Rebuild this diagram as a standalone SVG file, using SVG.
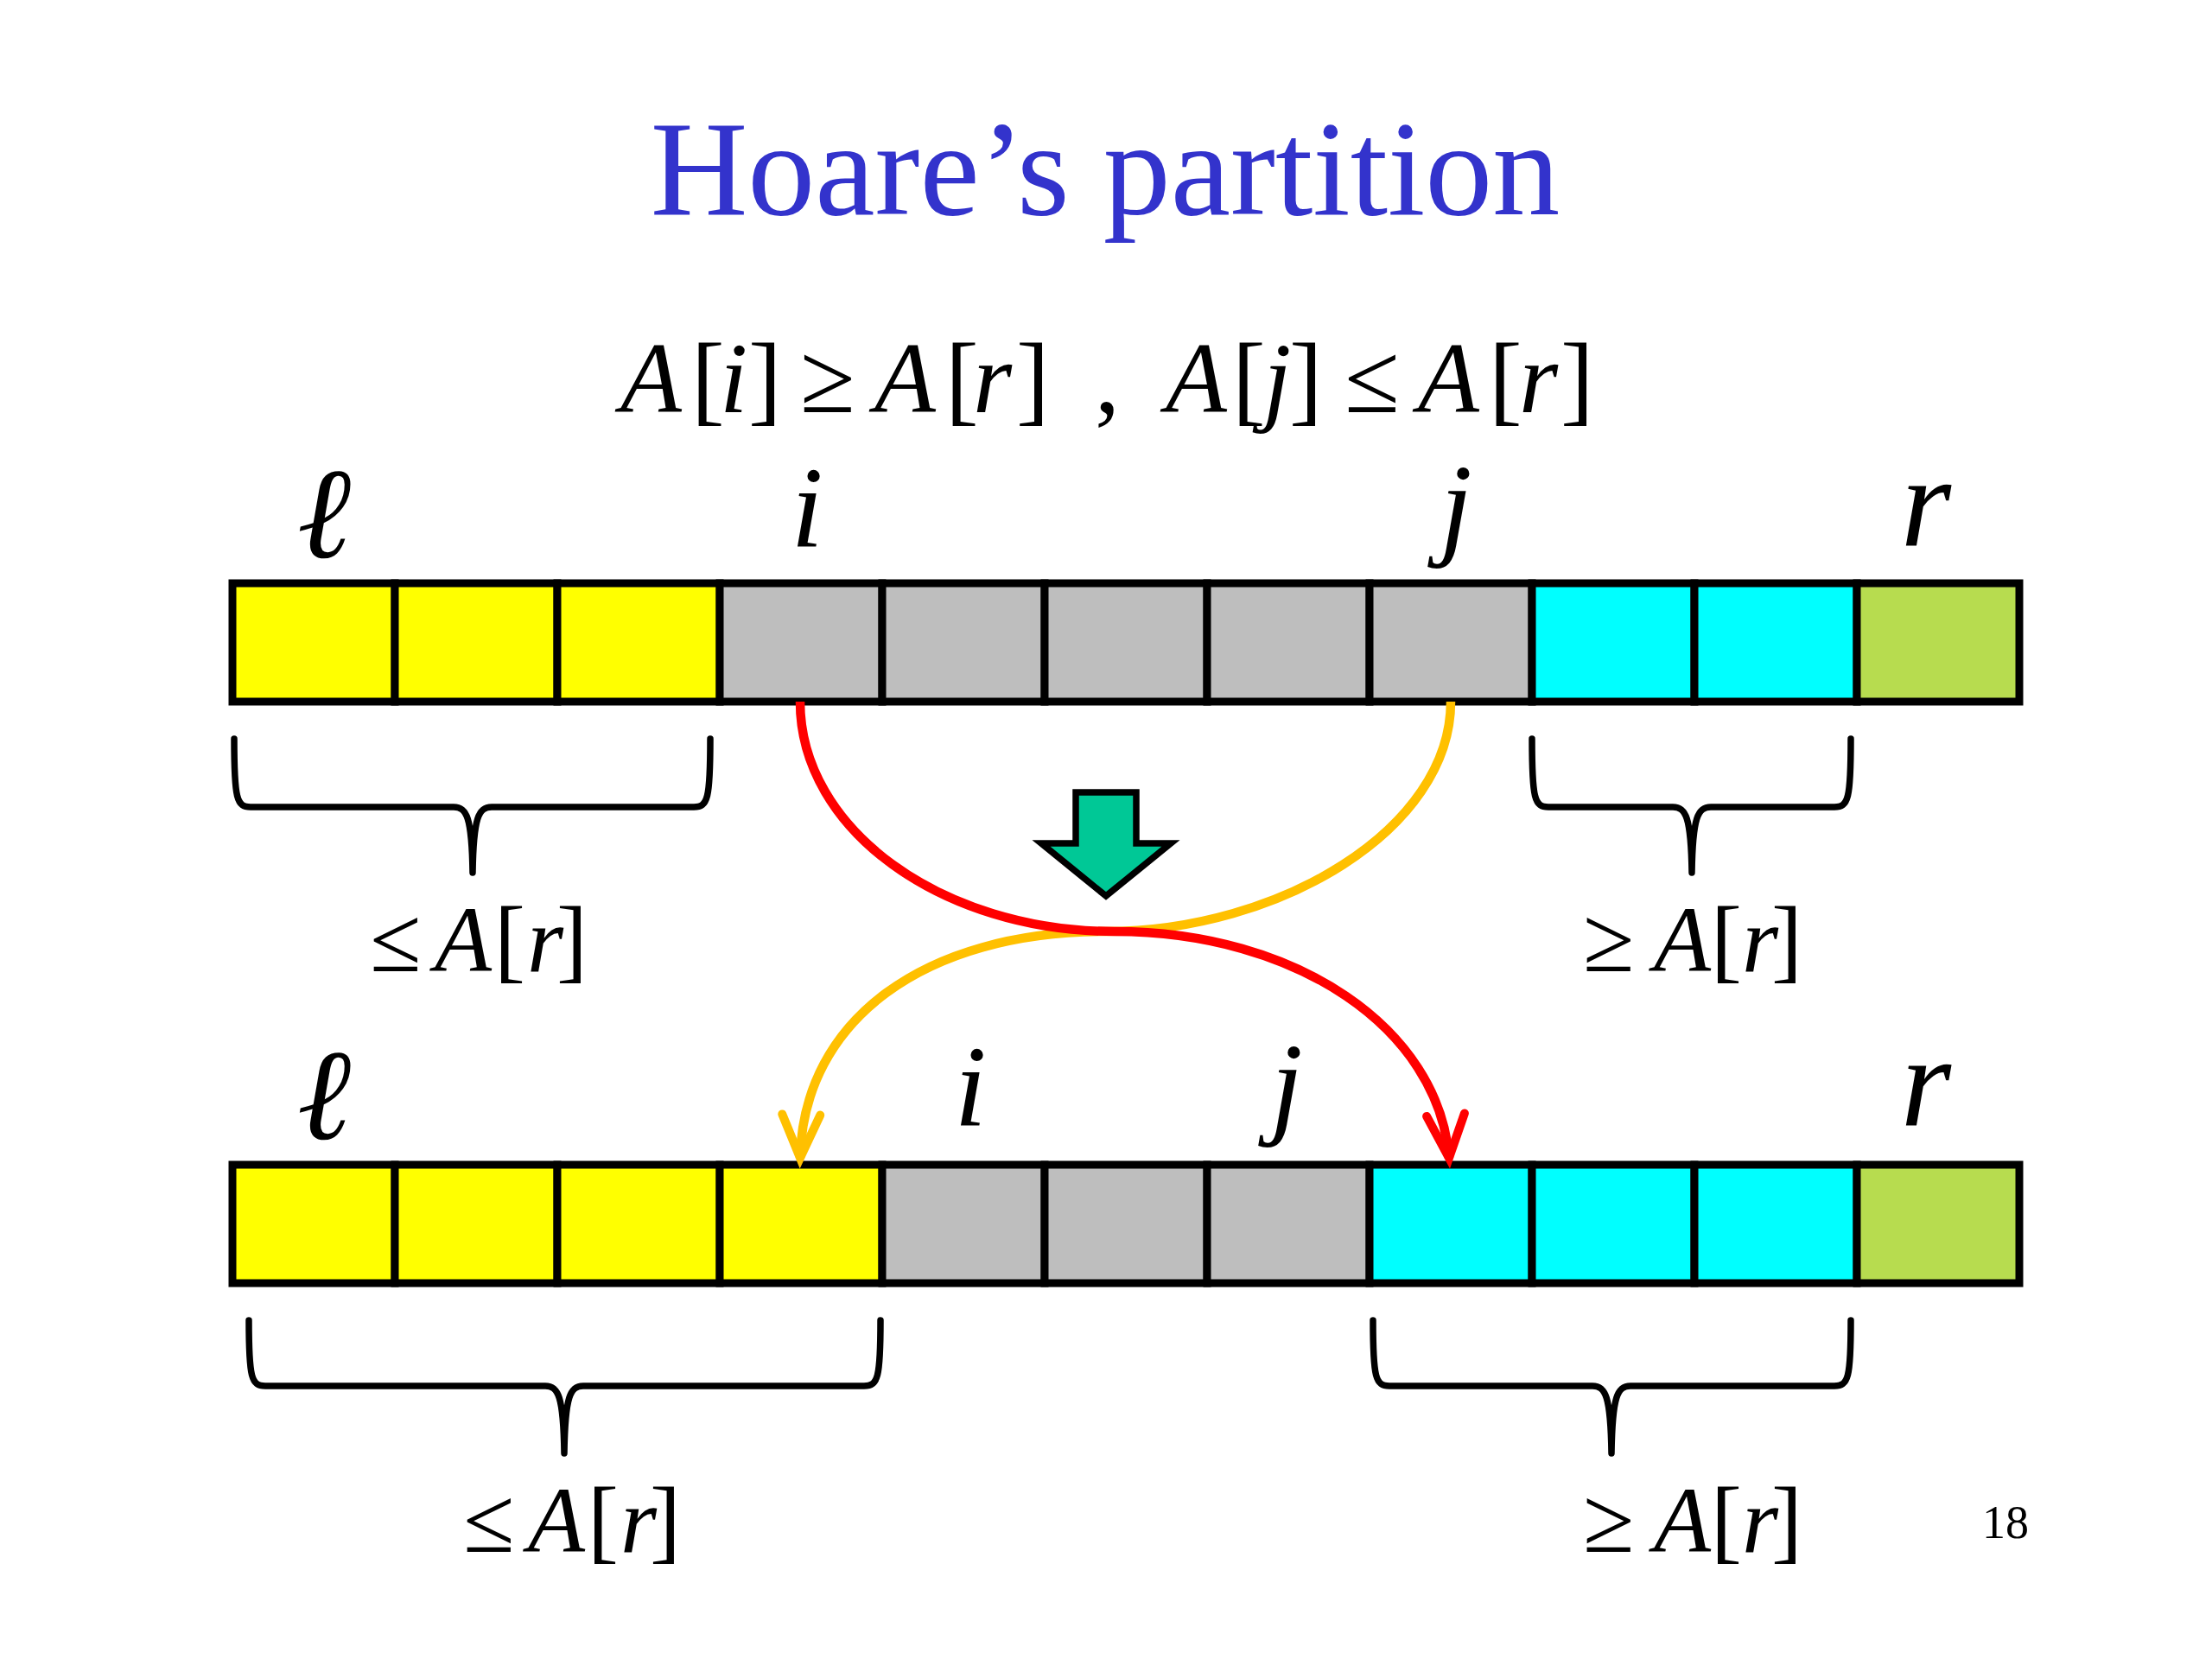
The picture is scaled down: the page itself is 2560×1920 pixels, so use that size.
<svg xmlns="http://www.w3.org/2000/svg" width="2560" height="1920" viewBox="0 0 2560 1920">
<style>
.t{font-family:"Liberation Serif","DejaVu Serif",serif;fill:#000}
.it{font-style:italic}
.cell{stroke:#000;stroke-width:9}
.y{fill:#ffff00}.g{fill:#bebebe}.c{fill:#00ffff}.p{fill:#b7dc4f}
.brace{fill:none;stroke:#000;stroke-width:7.5;stroke-linecap:round;stroke-linejoin:round}
.idx{font-family:"Liberation Serif","DejaVu Serif",serif;font-style:italic;text-anchor:middle}
</style>
<defs>
<marker id="ahR" markerUnits="userSpaceOnUse" markerWidth="100" markerHeight="100" viewBox="-70 -50 100 100" refX="0" refY="0" orient="auto">
<path d="M-50,-22 L0,0 L-50,22" fill="none" stroke="#ff0000" stroke-width="10" stroke-linecap="round" stroke-linejoin="miter"/>
</marker>
<marker id="ahO" markerUnits="userSpaceOnUse" markerWidth="100" markerHeight="100" viewBox="-70 -50 100 100" refX="0" refY="0" orient="auto">
<path d="M-50,-22 L0,0 L-50,22" fill="none" stroke="#ffc000" stroke-width="10" stroke-linecap="round" stroke-linejoin="miter"/>
</marker>
</defs>
<rect width="2560" height="1920" fill="#fff"/>

<g id="title">
<text x="1279" y="248" class="t" font-size="156" text-anchor="middle" style="fill:#3333cc">Hoare’s partition</text>
</g>

<g id="formula" class="t" font-size="116">
<text y="477"><tspan x="718" class="it">A</tspan><tspan x="800">[</tspan><tspan x="833" class="it">i</tspan><tspan x="866">]</tspan><tspan x="926">≥</tspan><tspan x="1012" class="it">A</tspan><tspan x="1094">[</tspan><tspan x="1126" class="it">r</tspan><tspan x="1176">]</tspan><tspan x="1267">,</tspan><tspan x="1349" class="it">A</tspan><tspan x="1426">[</tspan><tspan x="1462" class="it">j</tspan><tspan x="1492">]</tspan><tspan x="1556">≤</tspan><tspan x="1641" class="it">A</tspan><tspan x="1723">[</tspan><tspan x="1758" class="it">r</tspan><tspan x="1806">]</tspan></text>
</g>

<g id="top-array">
<rect class="cell y" x="269" y="675" width="188" height="137"/>
<rect class="cell y" x="457" y="675" width="188" height="137"/>
<rect class="cell y" x="645" y="675" width="188" height="137"/>
<rect class="cell g" x="833" y="675" width="188" height="137"/>
<rect class="cell g" x="1021" y="675" width="188" height="137"/>
<rect class="cell g" x="1209" y="675" width="188" height="137"/>
<rect class="cell g" x="1397" y="675" width="188" height="137"/>
<rect class="cell g" x="1585" y="675" width="188" height="137"/>
<rect class="cell c" x="1773" y="675" width="188" height="137"/>
<rect class="cell c" x="1961" y="675" width="188" height="137"/>
<rect class="cell p" x="2149" y="675" width="188" height="137"/>
</g>
<g id="top-labels">
<text class="idx" x="375" y="645" font-size="150">ℓ</text>
<text class="idx" x="934" y="632" font-size="134">i</text>
<text class="idx" x="1685" y="630" font-size="134">j</text>
<text class="idx" x="2229" y="632" font-size="150">r</text>
</g>

<g id="bottom-array">
<rect class="cell y" x="269" y="1348" width="188" height="137"/>
<rect class="cell y" x="457" y="1348" width="188" height="137"/>
<rect class="cell y" x="645" y="1348" width="188" height="137"/>
<rect class="cell y" x="833" y="1348" width="188" height="137"/>
<rect class="cell g" x="1021" y="1348" width="188" height="137"/>
<rect class="cell g" x="1209" y="1348" width="188" height="137"/>
<rect class="cell g" x="1397" y="1348" width="188" height="137"/>
<rect class="cell c" x="1585" y="1348" width="188" height="137"/>
<rect class="cell c" x="1773" y="1348" width="188" height="137"/>
<rect class="cell c" x="1961" y="1348" width="188" height="137"/>
<rect class="cell p" x="2149" y="1348" width="188" height="137"/>
</g>
<g id="bottom-labels">
<text class="idx" x="375" y="1318" font-size="150">ℓ</text>
<text class="idx" x="1123" y="1302" font-size="134">i</text>
<text class="idx" x="1489" y="1300" font-size="134">j</text>
<text class="idx" x="2229" y="1303" font-size="150">r</text>
</g>

<g id="braces">
<path class="brace" d="M271,855 C271,925 274,934 290,934 L525,934 C540,934 546,945 547,1010 M822,855 C822,925 819,934 803,934 L569,934 C554,934 548,945 547,1010"/>
<path class="brace" d="M1773,855 C1773,925 1776,934 1792,934 L1936,934 C1951,934 1957,945 1958,1010 M2142,855 C2142,925 2139,934 2123,934 L1980,934 C1965,934 1959,945 1958,1010"/>
<path class="brace" d="M288,1528 C288,1595 291,1604 307,1604 L631,1604 C646,1604 652,1615 653,1682 M1019,1528 C1019,1595 1016,1604 1000,1604 L675,1604 C660,1604 654,1615 653,1682"/>
<path class="brace" d="M1589,1528 C1589,1595 1592,1604 1608,1604 L1843,1604 C1858,1604 1864,1615 1865,1682 M2142,1528 C2142,1595 2139,1604 2123,1604 L1887,1604 C1872,1604 1866,1615 1865,1682"/>
</g>

<g id="brace-labels" class="t" font-size="108">
<text y="1124"><tspan x="428">≤</tspan><tspan x="503" class="it">A</tspan><tspan x="572">[</tspan><tspan x="610" class="it">r</tspan><tspan x="644">]</tspan></text>
<text y="1124"><tspan x="1832">≥</tspan><tspan x="1914" class="it">A</tspan><tspan x="1980">[</tspan><tspan x="2016" class="it">r</tspan><tspan x="2050">]</tspan></text>
<text y="1796"><tspan x="536">≤</tspan><tspan x="611" class="it">A</tspan><tspan x="680">[</tspan><tspan x="718" class="it">r</tspan><tspan x="752">]</tspan></text>
<text y="1796"><tspan x="1832">≥</tspan><tspan x="1914" class="it">A</tspan><tspan x="1980">[</tspan><tspan x="2016" class="it">r</tspan><tspan x="2050">]</tspan></text>
</g>

<g id="swap-arrow">
<path d="M1245,917 L1315,917 L1315,976 L1355,976 L1280,1037 L1205,976 L1245,976 Z" fill="#00c896" stroke="#000" stroke-width="7.5" stroke-linejoin="miter"/>
</g>

<g id="connectors" fill="none" stroke-width="10.5">
<path d="M1679,812 C1679,960 1480,1078 1280,1078 C1070,1078 930,1180 926,1340" stroke="#ffc000" marker-end="url(#ahO)"/>
<path d="M926,812 C926,960 1090,1078 1290,1078 C1500,1078 1665,1190 1677,1340" stroke="#ff0000" marker-end="url(#ahR)"/>
</g>

<g id="page-number">
<text x="2294" y="1780" class="t" font-size="54">18</text>
</g>
</svg>
